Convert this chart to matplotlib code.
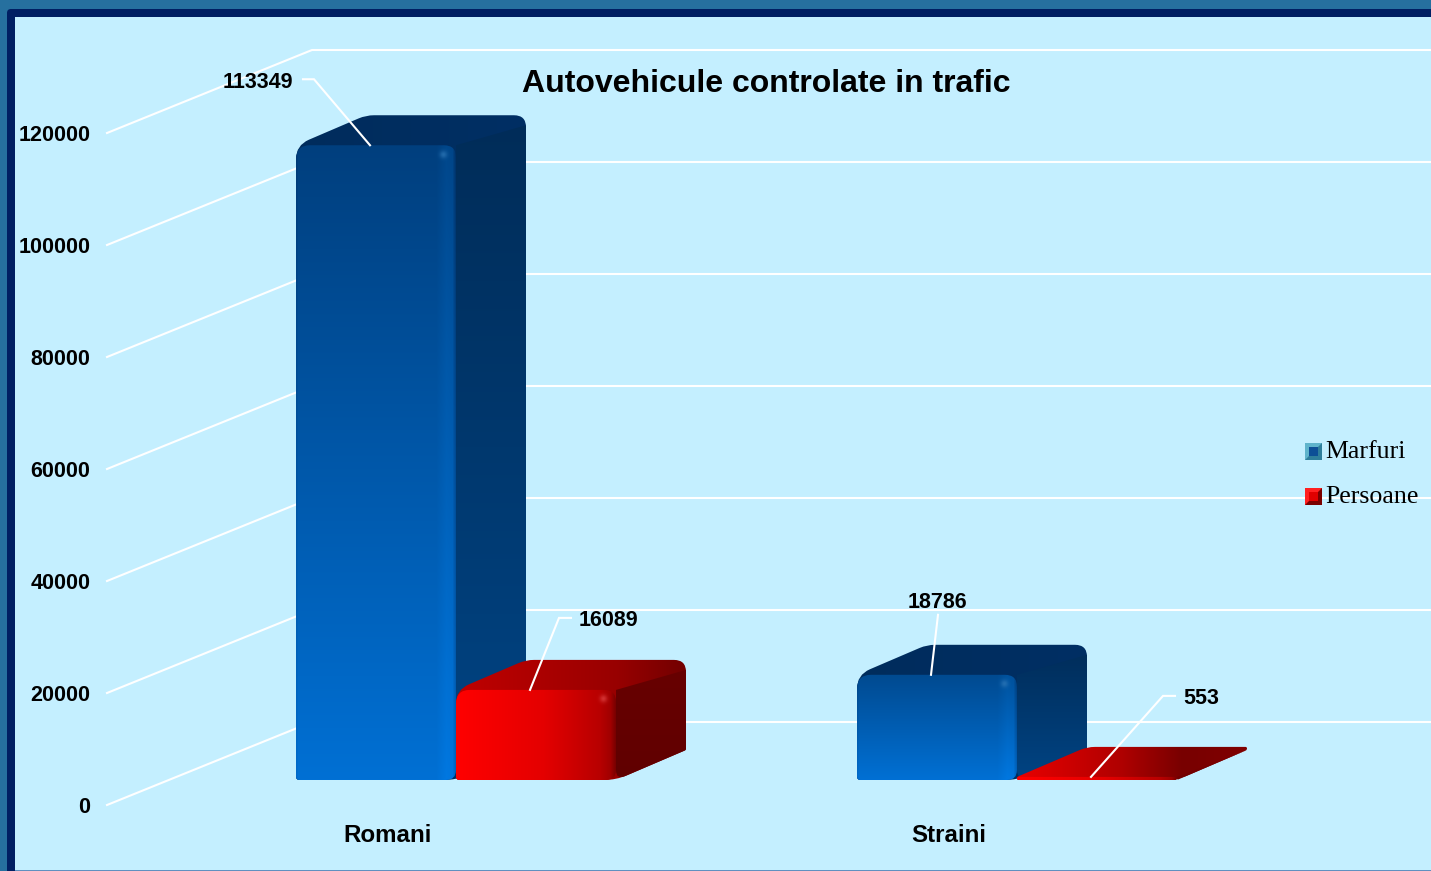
"""
Autovehicule controlate in trafic - pseudo 3d bars on a skewed wall
"""
import numpy as np
import matplotlib
matplotlib.use('Agg')
import matplotlib.pyplot as plt
from matplotlib.colors import to_rgb
from matplotlib.patches import PathPatch, Rectangle, FancyBboxPatch, Polygon
from matplotlib.path import Path
from matplotlib.transforms import Affine2D

categories = ['Romani', 'Straini']
series_names = ['Marfuri', 'Persoane']
marfuri = [113349, 18786]
persoane = [16089, 553]
y_ticks = [0, 20000, 40000, 60000, 80000, 100000, 120000]

W, H = 1431, 871
PX_X = 561.0       # pixels for one category step
PX_Y = 112 / 20000 # pixels for one unit of value
BAR_W = 160 / PX_X
DEPTH_X = 70 / PX_X
DEPTH_Y = 30 / PX_Y
WALL_X = 205 / PX_X
FLOOR_Y = -25 / PX_Y
WALL_Y = 58 / PX_Y


def dx(p):
    return p / PX_X


def dy(p):
    return p / PX_Y


def rounded(points, radii):
    # closed path, corners cut with a quadratic curve; radii are in pixels
    n = len(points)
    pts = np.array(points, float)
    verts, codes = [], []
    for i in range(n):
        a, b, c = pts[i - 1], pts[i], pts[(i + 1) % n]
        la = np.hypot((a[0] - b[0]) * PX_X, (a[1] - b[1]) * PX_Y)
        lc = np.hypot((c[0] - b[0]) * PX_X, (c[1] - b[1]) * PX_Y)
        r = min(radii[i], la / 2, lc / 2)
        p1 = b + (a - b) * r / max(la, 1e-6)
        p2 = b + (c - b) * r / max(lc, 1e-6)
        verts += [p1, b, p2]
        codes += [Path.MOVETO if i == 0 else Path.LINETO, Path.CURVE3, Path.CURVE3]
    verts.append(verts[0])
    codes.append(Path.CLOSEPOLY)
    return Path(verts, codes)


def shade(stops, vertical=True, n=256):
    # stops are (pos, colour), pos 0 = top / left
    pos = [s[0] for s in stops]
    cols = np.array([to_rgb(s[1]) for s in stops])
    t = np.linspace(0, 1, n)
    line = np.stack([np.interp(t, pos, cols[:, k]) for k in range(3)], axis=1)
    if vertical:
        return line[:, None, :]
    return line[None, :, :]


def fill(ax, path, img, x0, x1, y0, y1, z):
    patch = PathPatch(path, fc='none', ec='none', transform=ax.transData, zorder=z)
    ax.add_patch(patch)
    im = ax.imshow(img, extent=[x0, x1, y0, y1], origin='upper', aspect='auto',
                   interpolation='bilinear', zorder=z)
    im.set_clip_path(patch)


def bar3d(ax, left, v, st, z):
    right = left + BAR_W
    back = right + DEPTH_X
    vb = v + DEPTH_Y
    top_y = vb + dy(2)
    sil = rounded([(left, 0), (right, 0), (back, DEPTH_Y), (back, vb), (left + DEPTH_X, vb), (left, v)],
                  [3, 12, 2, 12, 8, 14])
    fill(ax, sil, shade(st['top'], vertical=False), left, back, -dy(2), top_y, z)
    side = rounded([(right, 0), (back, DEPTH_Y), (back, max(vb - dy(10), DEPTH_Y)), (right, v)],
                   [10, 1, 0, 0])
    fill(ax, side, shade(st['side']), right, back, -dy(2), top_y, z + 0.1)
    front = rounded([(left, 0), (right, 0), (right, v), (left, v)], [3, 10, 12, 14])
    fill(ax, front, st['front'](v), left, right, 0, v, z + 0.2)


def spot(img, color, strength):
    # small glint in the upper right corner of the front face
    rows, cols = img.shape[:2]
    if rows < 30:
        return img
    yy, xx = np.mgrid[0:rows, 0:cols]
    g = strength * np.exp(-((xx - (cols - 13)) ** 2 + (yy - 9) ** 2) / 14.0)
    return img * (1 - g[..., None]) + np.array(to_rgb(color)) * g[..., None]


def blue_front(v):
    rows = max(int(v * PX_Y), 2)
    stops = [(0, '#003f7e'), (1, '#0070d4')] if v > 50000 else [(0, '#004a90'), (1, '#0070d4')]
    img = np.repeat(shade(stops, n=rows), 160, axis=1)
    edge = np.interp(np.arange(160), [0, 2, 140, 150, 156, 159], [-0.04, 0, 0, 0.05, 0.04, -0.08])
    img = np.clip(img + edge[None, :, None] * np.array([0, 0.6, 1.0]), 0, 1)
    return spot(img, '#2f78b8', 0.7)


def red_front(v):
    rows = max(int(v * PX_Y), 2)
    img = np.repeat(shade([(0, '#ff0000'), (0.55, '#e40000'), (0.9, '#b80000'), (0.97, '#a00000'), (1, '#7a0000')],
                          vertical=False, n=160), rows, axis=0)
    return spot(img, '#e85050', 0.6)


blue_style = {'top': [(0, '#002c5c'), (1, '#002f64')],
              'side': [(0, '#002c58'), (1, '#004484')],
              'front': blue_front}
red_styles = [{'top': [(0, '#c00000'), (0.7, '#980000'), (1, '#720000')],
               'side': [(0, '#680000'), (1, '#600000')],
               'front': red_front},
              {'top': [(0, '#e80000'), (0.45, '#b00000'), (0.72, '#780000'), (1, '#800000')],
               'side': [(0, '#800000'), (1, '#700000')],
               'front': red_front}]

plt.rcParams['font.family'] = ['Liberation Sans', 'DejaVu Sans']
fig = plt.figure(figsize=(W / 100, H / 100), dpi=100, facecolor='#26709f')
ax = fig.add_axes([0, 0, 1, 1])
ax.axis('off')
to_px = Affine2D().scale(1 / W, -1 / H).translate(0, 1) + ax.transAxes

# frame
ax.add_patch(FancyBboxPatch((7, 9), W + 40, H + 40, boxstyle='round,pad=0,rounding_size=4',
                            fc='#001f63', ec='none', transform=to_px, zorder=0))
ax.add_patch(Rectangle((15, 17), W, H - 18, fc='#c4efff', ec='none', transform=to_px, zorder=0.1))
ax.add_patch(Rectangle((15, H - 1), W, 1, fc='#6090c0', ec='none', transform=to_px, zorder=0.1))

# value axis, wall and floor lines
x_tick = dx(107 - 456)
x_wall = x_tick + WALL_X
x_end = dx(W - 456)
for t in y_ticks:
    y_front = t + FLOOR_Y
    y_back = t + WALL_Y
    ax.plot([x_tick, x_wall, x_end + 1], [y_front, y_back, y_back], color='white', lw=1.5,
            solid_joinstyle='miter', zorder=1)
    ax.text(dx(90.5 - 456), y_front - dy(2.5), str(t), ha='right', va='center', fontsize=15.5,
            fontweight='bold', color='black', zorder=10)

# bars
for i in range(len(categories)):
    bar3d(ax, i - BAR_W, marfuri[i], blue_style, 2 + i)
    bar3d(ax, i, persoane[i], red_styles[i], 2.5 + i)
    ax.text(i - dx(68), dy(-55), categories[i], ha='center', va='center', fontsize=17.4,
            fontweight='bold', color='black', zorder=10)

# value labels with leader lines, offsets in pixels from the top of the bar
labels = [(-BAR_W, marfuri[0], (-67, 66), (-56, 66), -77, 'right'),
          (0, persoane[0], (41, 72), (29, 72), 49, 'left'),
          (1 - BAR_W, marfuri[1], (7, 60), (7, 60), 74, 'center'),
          (1, persoane[1], (84, 81), (72, 81), 92, 'left')]
for left, v, p0, p1, tx, ha in labels:
    ax_x = left + dx(74)
    ax.plot([ax_x + dx(p0[0]), ax_x + dx(p1[0]), ax_x], [v + dy(p0[1]), v + dy(p1[1]), v],
            color='white', lw=1.5, solid_joinstyle='miter', zorder=9)
    ly = p0[1] - 3
    if ha == 'center':
        ly = p0[1] + 12
        tx = 6
    ax.text(ax_x + dx(tx), v + dy(ly), str(v), ha=ha, va='center', fontsize=15.5,
            fontweight='bold', color='black', zorder=10)

ax.set_xlim(dx(-456), dx(W - 456))
ax.set_ylim(dy(780 - H), dy(780))

# title
ax.text(766, 84, 'Autovehicule controlate in trafic', transform=to_px, ha='center', va='center',
        fontsize=23, fontweight='bold', color='black', zorder=10)

# legend
legend_y = [451.5, 496.5]
legend_cols = [('#5fb4cc', '#2f7f9c', '#0d4f96', '#0a3f7a'), ('#ff2020', '#7a0000', '#e00000', '#500000')]
for name, y, c in zip(series_names, legend_y, legend_cols):
    x0, s = 1305, 17
    ax.add_patch(Rectangle((x0, y - s / 2), s, s, fc=c[0], ec='none', transform=to_px, zorder=10))
    ax.add_patch(Polygon([(x0, y + s / 2), (x0 + s, y + s / 2), (x0 + s, y - s / 2)], fc=c[1], ec='none',
                         transform=to_px, zorder=10))
    ax.add_patch(Rectangle((x0 + 4, y - s / 2 + 4), s - 8, s - 8, fc=c[2], ec='none', transform=to_px, zorder=10.1))
    ax.text(1325.5, y + 0.5, name, transform=to_px, ha='left', va='center', fontsize=18.6,
            family=['Liberation Serif', 'DejaVu Serif'], color='black', zorder=10)

fig.savefig('out.png', dpi=100, facecolor=fig.get_facecolor())
